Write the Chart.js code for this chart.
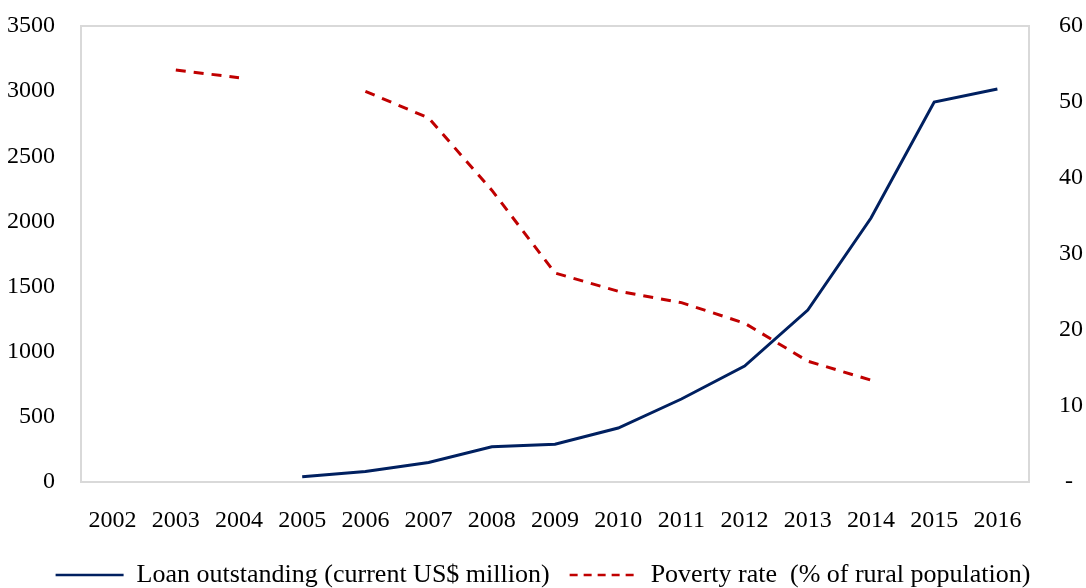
<!DOCTYPE html>
<html>
<head>
<meta charset="utf-8">
<script src="https://cdn.jsdelivr.net/npm/chart.js@4"></script>
<style>
  html, body { margin: 0; padding: 0; background: #fff; }
  #wrap { width: 1086px; height: 588px; }
</style>
</head>
<body>
<div id="wrap"><canvas id="myChart" width="1086" height="588"></canvas></div>
<script>
const years = ['2002', '2003', '2004', '2005', '2006', '2007', '2008', '2009',
  '2010', '2011', '2012', '2013', '2014', '2015', '2016'];
const loanOutstanding = [null, null, null, 40, 80, 150, 270, 290, 414, 637, 890, 1320, 2026, 2916, 3016];
const povertyRate = [null, 54.2, 53.2, null, 51.4, 47.9, 38.4, 27.5, 25.1, 23.6, 20.9, 15.9, 13.4, null, null];
const leftTicks = [0, 500, 1000, 1500, 2000, 2500, 3000, 3500];
const rightTicks = [0, 10, 20, 30, 40, 50, 60];

const FAMILY = '"Liberation Serif", "Times New Roman", serif';
const FONT = { family: FAMILY, size: 24 };

// light grey box round the plot area
const frame = {
  id: 'frame',
  beforeDatasetsDraw(chart) {
    const a = chart.chartArea;
    const c = chart.ctx;
    c.save();
    c.strokeStyle = '#d9d9d9';
    c.lineWidth = 2;
    c.strokeRect(a.left, a.top, a.right - a.left, a.bottom - a.top);
    c.restore();
  }
};

function fixY(width) {
  return function (axis) {
    axis.width = width;
    axis.paddingTop = 0;
    axis.paddingBottom = 0;
  };
}

const ctx = document.getElementById('myChart');

new Chart(ctx, {
  type: 'line',
  data: {
    labels: years,
    datasets: [
      {
        label: 'Loan outstanding (current US$ million)',
        data: loanOutstanding,
        yAxisID: 'y',
        borderColor: '#002060',
        backgroundColor: '#002060',
        borderWidth: 3,
        pointRadius: 0,
        tension: 0
      },
      {
        label: 'Poverty rate  (% of rural population)',
        data: povertyRate,
        yAxisID: 'y1',
        borderColor: '#c00000',
        backgroundColor: '#c00000',
        borderWidth: 3,
        borderDash: [10, 8],
        pointRadius: 0,
        spanGaps: false,
        tension: 0
      }
    ]
  },
  options: {
    responsive: false,
    animation: false,
    layout: { padding: { top: 26, left: 0, right: 0, bottom: -10 } },
    plugins: {
      tooltip: { enabled: false },
      legend: {
        position: 'bottom',
        labels: {
          usePointStyle: true,
          pointStyle: 'line',
          pointStyleWidth: 68,
          boxHeight: 2,
          color: '#000',
          font: { family: FAMILY, size: 26 },
          padding: 20,
          generateLabels(chart) {
            const items = Chart.defaults.plugins.legend.labels.generateLabels(chart);
            items.forEach(it => {
              const ds = chart.data.datasets[it.datasetIndex];
              it.lineDash = ds.borderDash ? [8, 6] : [];
              it.lineWidth = 2.5;
              it.strokeStyle = ds.borderColor;
            });
            return items;
          }
        }
      }
    },
    scales: {
      x: {
        offset: true,
        afterFit(axis) { axis.height = 60; },
        grid: { display: false, drawTicks: false },
        border: { display: false },
        ticks: { color: '#000', font: FONT, padding: 24, maxRotation: 0, autoSkip: false }
      },
      y: {
        position: 'left',
        min: 0,
        max: 3500,
        afterBuildTicks(axis) { axis.ticks = leftTicks.map(v => ({ value: v })); },
        afterFit: fixY(81),
        grid: { display: false, drawTicks: false },
        border: { display: false },
        ticks: { color: '#000', font: FONT, padding: 26, callback: v => String(v) }
      },
      y1: {
        position: 'right',
        min: 0,
        max: 60,
        afterBuildTicks(axis) { axis.ticks = rightTicks.map(v => ({ value: v })); },
        afterFit: fixY(57),
        grid: { display: false, drawTicks: false },
        border: { display: false },
        ticks: {
          color: '#000', font: FONT, padding: 30,
          callback: v => (v === 0 ? ' -' : String(v))
        }
      }
    }
  },
  plugins: [frame]
});
</script>
</body>
</html>
